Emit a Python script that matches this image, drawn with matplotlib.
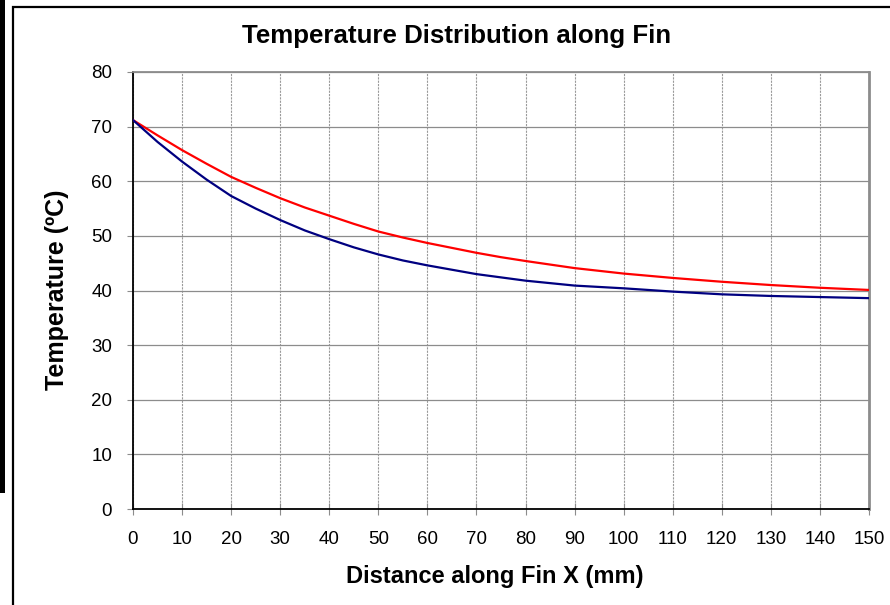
import matplotlib.pyplot as plt
from matplotlib.patches import Rectangle

plt.rcParams['font.family'] = ['Liberation Sans', 'DejaVu Sans']

# distance along the fin (mm) and the two temperature curves (degC)
distance = [0, 5, 10, 15, 20, 25, 30, 35, 40, 45, 50, 55, 60, 65, 70, 75, 80, 90,
            100, 110, 120, 130, 140, 150]
temp_red = [71.2, 68.4, 65.7, 63.2, 60.8, 58.8, 56.9, 55.2, 53.7, 52.2, 50.8, 49.7, 48.7, 47.8,
            46.9, 46.1, 45.4, 44.1, 43.1, 42.3, 41.6, 41.0, 40.5, 40.1]
temp_blue = [71.2, 67.2, 63.6, 60.3, 57.3, 55.0, 52.9, 51.0, 49.4, 47.9, 46.6, 45.5, 44.6, 43.8,
             43.0, 42.4, 41.8, 40.9, 40.4, 39.8, 39.3, 39.0, 38.8, 38.6]

xticks = list(range(0, 151, 10))
yticks = list(range(0, 81, 10))

fig = plt.figure(figsize=(8.9, 6.05), dpi=100)
ax = fig.add_axes([133/890, 1 - 509/605, (869 - 133)/890, (509 - 72)/605])

ax.plot(distance, temp_red, color='#ff0000', lw=1.6, zorder=3)
ax.plot(distance, temp_blue, color='#000080', lw=1.6, zorder=3)

ax.set_xlim(0, 150)
ax.set_ylim(0, 80)
ax.set_xticks(xticks)
ax.set_yticks(yticks)

ax.grid(axis='y', color='#8c8c8c', lw=0.9)
ax.grid(axis='x', color='#9a9a9a', lw=0.8, linestyle=(0, (2, 1)))

ax.tick_params(axis='y', direction='out', length=4, color='#8c8c8c', pad=11, labelsize=13.5)
ax.tick_params(axis='x', direction='inout', length=8, color='#8c8c8c', pad=12, labelsize=13.5)

ax.spines['left'].set_color('black')
ax.spines['bottom'].set_color('black')
ax.spines['left'].set_linewidth(1.3)
ax.spines['bottom'].set_linewidth(1.3)
ax.spines['top'].set_color('#8c8c8c')
ax.spines['right'].set_color('#8c8c8c')
ax.spines['top'].set_linewidth(1.3)
ax.spines['right'].set_linewidth(2)

fig.text(457/890, 1 - 36/605, 'Temperature Distribution along Fin', ha='center', va='center',
         fontsize=18.6, fontweight='bold')
fig.text(495/890, 1 - 576/605, 'Distance along Fin X (mm)', ha='center', va='center',
         fontsize=17, fontweight='bold')
fig.text(57/890, 1 - 290/605, 'Temperature (ºC)', ha='center', va='center', rotation=90,
         fontsize=18, fontweight='bold')

# outer chart frame and the dark strip at the left edge
fig.patches.append(Rectangle((13/890, -0.1), 1.0, (605 - 7)/605 + 0.1, transform=fig.transFigure,
                             fill=False, edgecolor='black', lw=1.6))
fig.patches.append(Rectangle((0, 1 - 493/605), 4.5/890, 493/605, transform=fig.transFigure,
                             facecolor='black', edgecolor='none'))

fig.savefig('out.png', dpi=100)
